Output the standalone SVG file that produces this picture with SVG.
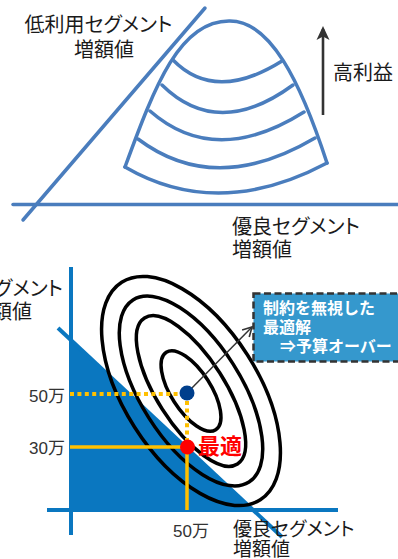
<svg xmlns="http://www.w3.org/2000/svg" width="398" height="559" viewBox="0 0 398 559">
<style>
.lbl{font-family:"Liberation Sans","Noto Sans CJK JP",sans-serif;font-size:20px;fill:#1a1a1a;font-feature-settings:"palt"}
.lbs{font-family:"Liberation Sans","Noto Sans CJK JP",sans-serif;font-size:19px;fill:#1a1a1a;font-feature-settings:"palt"}
.num{font-family:"Liberation Sans","Noto Sans CJK JP",sans-serif;font-size:17px;fill:#333}
.top{fill:none;stroke:#4a7dbd;stroke-width:3.5;stroke-linecap:round}
.ring{fill:none;stroke:#000;stroke-width:3.5}
.ax{stroke:#0a77c0;stroke-width:4;fill:none}
.ydot{stroke:#ffc000;stroke-width:4;stroke-dasharray:4 3.4;fill:none}
.ysol{stroke:#ffc000;stroke-width:3.5;fill:none}
.box{font-family:"Liberation Sans","Noto Sans CJK JP",sans-serif;font-size:16px;font-weight:bold;fill:#fff}
</style>
<defs>
<marker id="upHead" markerUnits="userSpaceOnUse" markerWidth="14" markerHeight="14" viewBox="0 0 14 14" refX="11" refY="7" orient="auto">
<path d="M0,0.5 L14,7 L0,13.5 L3.5,7 z" fill="#333"/>
</marker>
<marker id="openHead" markerUnits="userSpaceOnUse" markerWidth="12" markerHeight="12" viewBox="0 0 12 12" refX="10" refY="6" orient="auto">
<path d="M1,1 L10,6 L1,11" fill="none" stroke="#333" stroke-width="1.6"/>
</marker>
</defs>

<!-- Upper diagram -->
<g id="top-axes">
<line class="top" x1="13" y1="204.5" x2="398" y2="204.5" stroke-linecap="butt"/>
<line class="top" x1="23" y1="220" x2="205" y2="8"/>
</g>
<g id="dome">
<path class="top" d="M125,167 C155,85 180,20 230,21 C270,21 300,80 327,163"/>
<path class="top" d="M173,60 Q215,103 282,61"/>
<path class="top" d="M162,85 Q218,140 293,85"/>
<path class="top" d="M150,111 Q215,168 304,112"/>
<path class="top" d="M138,139 Q215,197 315,138"/>
<path class="top" d="M125,167 Q218,221 327,163"/>
</g>
<g id="profit-arrow">
<line x1="323" y1="115" x2="323" y2="29" stroke="#333" stroke-width="2.6" marker-end="url(#upHead)"/>
<text class="lbl" x="333" y="80">高利益</text>
</g>
<g id="top-labels">
<text class="lbl" x="98.5" y="31.5" text-anchor="middle">低利用セグメント</text>
<text class="lbl" x="104" y="56.5" text-anchor="middle">増額値</text>
<text class="lbl" x="232" y="233.5">優良セグメント</text>
<text class="lbl" x="232" y="256.5">増額値</text>
</g>

<!-- Lower diagram -->
<g id="feasible-region">
<polygon points="71,339 71,510 253,510" fill="#0a77c0"/>
</g>
<g id="lower-axes">
<line class="ax" x1="71" y1="267" x2="71" y2="535"/>
<line class="ax" x1="47" y1="510" x2="338" y2="510"/>
<line class="ax" x1="58" y1="328" x2="282" y2="537"/>
</g>
<g id="contours" transform="translate(191,391) rotate(57.5)">
<ellipse class="ring" cx="0" cy="0" rx="46" ry="20"/>
<ellipse class="ring" cx="0" cy="0" rx="86.5" ry="34"/>
<ellipse class="ring" cx="0" cy="0" rx="108" ry="50"/>
<ellipse class="ring" cx="0" cy="0" rx="129" ry="67"/>
</g>
<g id="guides">
<line class="ydot" x1="70" y1="394" x2="183" y2="394"/>
<line class="ydot" x1="187" y1="401" x2="187" y2="442"/>
<line class="ysol" x1="70" y1="447" x2="187" y2="447"/>
<line class="ysol" x1="187" y1="447" x2="187" y2="510"/>
</g>
<g id="connectors">
<line x1="187" y1="393" x2="252" y2="327" stroke="#333" stroke-width="1.5" marker-end="url(#openHead)"/>
</g>
<g id="unconstrained-point">
<circle cx="187" cy="393" r="7.5" fill="#003f8c"/>
</g>
<g id="optimal-point">
<circle cx="187.5" cy="447" r="7.5" fill="#ff0000"/>
<text x="198" y="454" font-family="Liberation Sans, Noto Sans CJK JP, sans-serif" font-size="22" font-weight="bold" fill="#ff0000">最適</text>
</g>
<g id="note-box">
<rect x="253.5" y="293.5" width="160" height="68" fill="#3598cd" stroke="#333" stroke-width="2.5" stroke-dasharray="7 3.5"/>
<text class="box" x="263" y="314">制約を無視した</text>
<text class="box" x="263" y="333">最適解</text>
<text class="box" x="280" y="352">⇒予算オーバー</text>
</g>
<g id="lower-labels">
<text class="lbl" x="63" y="296" text-anchor="end">低利用セグメント</text>
<text class="lbl" x="32" y="319" text-anchor="end">増額値</text>
<text class="num" x="65" y="402" text-anchor="end">50万</text>
<text class="num" x="65" y="454" text-anchor="end">30万</text>
<text class="num" x="191" y="537" text-anchor="middle">50万</text>
<text class="lbs" x="233" y="535.5">優良セグメント</text>
<text class="lbs" x="233" y="555.5">増額値</text>
</g>
</svg>
